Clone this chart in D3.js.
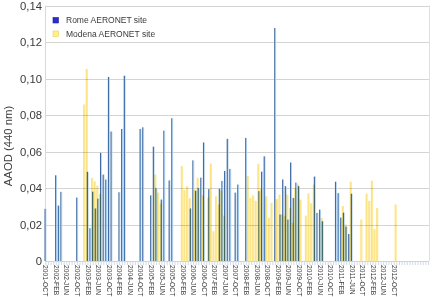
<!DOCTYPE html>
<html><head><meta charset="utf-8">
<script src="https://cdn.jsdelivr.net/npm/d3@7"></script>
<style>
html,body{margin:0;padding:0;background:#fff;}
svg{display:block;font-family:"Liberation Sans",Arial,sans-serif;}
</style></head>
<body><svg id="c" width="434" height="297"></svg>
<script>
// ---- data ----
const monthNames = ["JAN","FEB","MAR","APR","MAY","JUN","JUL","AUG","SEP","OCT","NOV","DEC"];
const firstYear = 2001, firstMonth = 9, nMonths = 146; // 2001-OCT .. 2013-NOV
const categories = d3.range(nMonths).map(i => { const m = firstMonth + i; return (firstYear + Math.floor(m / 12)) + "-" + monthNames[m % 12]; });

const romeDates = ["2001-OCT","2002-FEB","2002-MAR","2002-APR","2002-OCT","2003-FEB","2003-MAR","2003-APR","2003-MAY","2003-JUN","2003-JUL","2003-AUG","2003-SEP","2003-OCT","2003-NOV","2004-FEB","2004-MAR","2004-APR","2004-OCT","2004-NOV","2005-FEB","2005-MAR","2005-APR","2005-JUN","2005-JUL","2005-SEP","2005-OCT","2006-MAY","2006-JUN","2006-JUL","2006-AUG","2006-SEP","2006-OCT","2006-DEC","2007-APR","2007-MAY","2007-JUN","2007-JUL","2007-AUG","2007-OCT","2007-NOV","2008-FEB","2008-JUL","2008-AUG","2008-SEP","2009-JAN","2009-MAR","2009-APR","2009-MAY","2009-JUN","2009-JUL","2009-AUG","2009-SEP","2009-OCT","2010-APR","2010-MAY","2010-JUN","2010-JUL","2010-DEC","2011-JAN","2011-FEB","2011-MAR","2011-APR","2011-MAY","2011-JUN"];
const romeAAOD = [0.0286,0.047,0.0304,0.0379,0.0348,0.0489,0.018,0.038,0.0288,0.0342,0.0593,0.0474,0.0447,0.1009,0.071,0.0377,0.0724,0.1016,0.0724,0.0733,0.036,0.0627,0.0401,0.0337,0.0715,0.0442,0.0783,0.0288,0.0552,0.0385,0.0401,0.0457,0.065,0.0394,0.0397,0.0439,0.0494,0.067,0.0505,0.0375,0.0419,0.0675,0.0383,0.049,0.0574,0.1278,0.0255,0.0447,0.041,0.0227,0.054,0.0346,0.043,0.041,0.0463,0.0264,0.0282,0.0218,0.0435,0.0372,0.0238,0.0265,0.0189,0.0148,0.0369];

const modenaDates = ["2003-JAN","2003-FEB","2003-APR","2003-MAY","2003-JUN","2003-JUL","2005-APR","2005-MAY","2005-JUN","2006-FEB","2006-MAR","2006-APR","2006-MAY","2006-JUL","2006-AUG","2006-OCT","2006-DEC","2007-JAN","2007-FEB","2007-MAR","2007-APR","2007-MAY","2007-JUN","2008-MAR","2008-APR","2008-MAY","2008-JUN","2008-JUL","2008-AUG","2008-OCT","2008-NOV","2008-DEC","2009-FEB","2009-MAR","2009-APR","2009-MAY","2009-JUN","2009-JUL","2009-AUG","2009-SEP","2009-OCT","2009-NOV","2010-JAN","2010-FEB","2010-MAR","2010-APR","2010-JUL","2011-MAR","2011-APR","2011-JUN","2011-OCT","2011-DEC","2012-JAN","2012-FEB","2012-MAR","2012-APR","2012-NOV"];
const modenaAAOD = [0.0858,0.1053,0.0456,0.0437,0.0414,0.0368,0.0474,0.0375,0.0315,0.052,0.039,0.041,0.0344,0.039,0.0456,0.0359,0.0348,0.0534,0.0163,0.0355,0.031,0.0386,0.0249,0.0465,0.0346,0.0359,0.033,0.0533,0.0397,0.0355,0.0237,0.0319,0.034,0.0364,0.0255,0.0246,0.0364,0.029,0.021,0.040,0.042,0.0337,0.0249,0.0371,0.0317,0.0419,0.0237,0.0302,0.02,0.0435,0.0227,0.0369,0.033,0.0441,0.0175,0.0291,0.031];

const yTickValues = [0, 0.02, 0.04, 0.06, 0.08, 0.10, 0.12, 0.14];
const yTickLabels = ["0","0,02","0,04","0,06","0,08","0,10","0,12","0,14"];
const seriesNames = ["Rome AERONET site", "Modena AERONET site"];
const yTitle = "AAOD (440 nm)";

// ---- chart ----
const svg = d3.select("#c");
const x = d3.scaleBand().domain(categories).range([44.4, 44.4 + nMonths * 2.64]).padding(0);
const y = d3.scaleLinear().domain([0, 0.14]).range([261, 5.7]);
const bw = x.bandwidth();
const plotL = 45, plotR = 429;

const defs = svg.append("defs");
const g1 = defs.append("linearGradient").attr("id","romeGrad").attr("x1","0").attr("x2","1").attr("y1","0").attr("y2","0");
g1.append("stop").attr("offset","0").attr("stop-color","#2f5b94");
g1.append("stop").attr("offset","0.4").attr("stop-color","#4574ae");
g1.append("stop").attr("offset","0.6").attr("stop-color","#a3c6ea");
g1.append("stop").attr("offset","1").attr("stop-color","#bcd8f3");
const g2 = defs.append("linearGradient").attr("id","modGrad").attr("x1","0").attr("x2","1").attr("y1","0").attr("y2","0");
g2.append("stop").attr("offset","0").attr("stop-color","#fbde72");
g2.append("stop").attr("offset","1").attr("stop-color","#fdeea6");

// gridlines
svg.append("g").selectAll("line").data(yTickValues).join("line")
  .attr("x1", plotL).attr("x2", plotR)
  .attr("y1", d => Math.round(y(d)) + 0.5).attr("y2", d => Math.round(y(d)) + 0.5)
  .attr("stroke", "#d4d4d4").attr("stroke-width", 1);
// plot borders left/right
svg.append("line").attr("x1", plotL + 0.5).attr("x2", plotL + 0.5).attr("y1", y(0.14)).attr("y2", y(0))
  .attr("stroke", "#d9d9d9");
svg.append("line").attr("x1", plotR + 0.5).attr("x2", plotR + 0.5).attr("y1", y(0.14)).attr("y2", y(0))
  .attr("stroke", "#e0e0e0");

// minor ticks under x axis (one per category)
svg.append("g").selectAll("line").data(categories).join("line")
  .attr("x1", d => x(d) + bw / 2).attr("x2", d => x(d) + bw / 2)
  .attr("y1", y(0) + 1).attr("y2", y(0) + 4)
  .attr("stroke", "#c9d0dc").attr("stroke-width", 0.8);

const rome = romeDates.map((d, i) => ({cat: d, v: romeAAOD[i]}));
const modena = modenaDates.map((d, i) => ({cat: d, v: modenaAAOD[i]}));

// Rome bars
svg.append("g").selectAll("rect").data(rome).join("rect")
  .attr("x", d => x(d.cat) + bw * 0.05)
  .attr("width", bw * 0.72)
  .attr("y", d => y(d.v))
  .attr("height", d => y(0) - y(d.v))
  .attr("fill", "url(#romeGrad)");

// Modena bars (multiply blend gives the green overlap)
svg.append("g").selectAll("rect").data(modena).join("rect")
  .attr("x", d => x(d.cat) - bw * 0.33)
  .attr("width", bw * 0.83)
  .attr("y", d => y(d.v))
  .attr("height", d => y(0) - y(d.v))
  .attr("fill", "url(#modGrad)")
  .style("mix-blend-mode","multiply");

// y axis labels
const yAxis = d3.axisLeft(y).tickValues(yTickValues).tickFormat((d, i) => yTickLabels[i]).tickSize(0).tickPadding(0);
const ya = svg.append("g").attr("transform", "translate(42,0)").call(yAxis);
ya.select(".domain").remove();
ya.selectAll("text").attr("font-size", 11.3).attr("fill", "#3a3a3a").attr("font-family", "Liberation Sans, Arial, sans-serif");

// y title
svg.append("text").attr("transform", "translate(12,146) rotate(-90)")
  .attr("text-anchor", "middle").attr("font-size", 11.3).attr("fill", "#3a3a3a").text(yTitle);

// x labels every 4th month
const xl = categories.filter((c, i) => i % 4 === 0 && i <= 132);
svg.append("g").selectAll("text").data(xl).join("text")
  .attr("transform", d => `translate(${x(d) + bw / 2},265) rotate(90)`)
  .attr("dy", "0.35em").attr("font-size", 6.7).attr("fill", "#3a3a3a").text(d => d);

// legend
const leg = svg.append("g");
const legColors = [{f:"#2b2bd4", s:"#20209a"}, {f:"#fff08c", s:"#e8cf50"}];
seriesNames.forEach((n, i) => {
  leg.append("rect").attr("x", 53).attr("y", 17.5 + i * 13.5).attr("width", 5.5).attr("height", 5.5)
    .attr("fill", legColors[i].f).attr("stroke", legColors[i].s).attr("stroke-width", 0.6);
  leg.append("text").attr("x", 66).attr("y", 20.3 + i * 13.5).attr("dy", "0.35em")
    .attr("font-size", 8.5).attr("fill", "#3a3a3a").text(n);
});
</script></body></html>
